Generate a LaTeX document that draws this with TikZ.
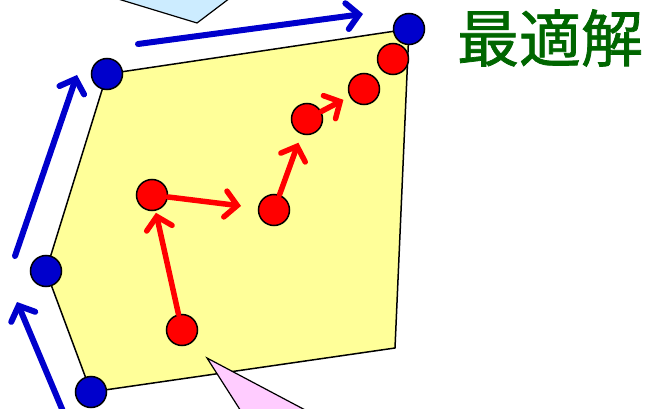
\documentclass[tikz,border=0pt]{standalone}
\usepackage{fontspec}
\newfontfamily\cjk[FakeBold=1.2]{Noto Sans CJK JP}
\usetikzlibrary{arrows.meta}
\definecolor{polyyellow}{HTML}{FFFF99}
\definecolor{calloutblue}{HTML}{CCECFF}
\definecolor{calloutpink}{HTML}{FFCCFF}
\definecolor{dotblue}{HTML}{0000CC}
\definecolor{dotred}{HTML}{FF0000}
\definecolor{textgreen}{HTML}{006600}
\tikzset{
  bluedot/.style={circle,draw=black,line width=1.5pt,fill=dotblue,minimum size=31pt,inner sep=0pt},
  reddot/.style={circle,draw=black,line width=1.5pt,fill=dotred,minimum size=31pt,inner sep=0pt},
  bluearrow/.style={draw=dotblue,line width=6pt,line cap=round,-{Straight Barb[length=12pt,width=26pt,line cap=round]}},
  redarrow/.style={draw=dotred,line width=5.5pt,line cap=round,-{Straight Barb[length=12pt,width=26pt,line cap=round]}},
  callout/.style={draw=black,line width=1.2pt,line join=miter}
}
\begin{document}
\begin{tikzpicture}[x=1pt,y=-1pt]
\useasboundingbox (0,0) rectangle (645,409);
\clip (0,0) rectangle (645,409);
% polygon
\coordinate (p1) at (91,392);
\coordinate (p2) at (46,271);
\coordinate (p3) at (107,74);
\coordinate (p4) at (409,29);
\coordinate (p5) at (395,348);
\draw[fill=polyyellow,line width=1.5pt,line join=round] (p1) -- (p2) -- (p3) -- (p4) -- (p5) -- cycle;
% callouts
\coordinate (ct1) at (197,23);
\draw[callout,fill=calloutblue] (105,-5) -- (ct1) -- (234,-5);
\coordinate (ct2) at (207,358);
\draw[callout,fill=calloutpink] (253,430) -- (ct2) -- (343,430);
% blue dots
\node[bluedot] (b1) at (p1) {};
\node[bluedot] (b2) at (p2) {};
\node[bluedot] (b3) at (p3) {};
\node[bluedot] (b4) at (p4) {};
% red dots
\node[reddot] (r1) at (182,330) {};
\node[reddot] (r2) at (152,195) {};
\node[reddot] (r3) at (274,210) {};
\node[reddot] (r4) at (307,119) {};
\node[reddot] (r5) at (364,89) {};
\node[reddot] (r6) at (393,59) {};
% red arrows
\draw[redarrow,shorten >=2pt] (r1) -- (r2);
\draw[redarrow,shorten >=17pt] (r2) -- (r3);
\draw[redarrow,shorten >=9pt] (r3) -- (r4);
\draw[redarrow,shorten >=7pt] (r4) -- (r5);
% blue arrows
\coordinate (a1s) at (65,416);
\coordinate (a1e) at (17,302);
\coordinate (a2s) at (15,256);
\coordinate (a2e) at (77,75);
\coordinate (a3s) at (138,44);
\coordinate (a3e) at (363,14);
\draw[bluearrow] (a1s) -- (a1e);
\draw[bluearrow] (a2s) -- (a2e);
\draw[bluearrow] (a3s) -- (a3e);
% label
\node[text=textgreen,font=\cjk\fontsize{62}{62}\selectfont,inner sep=0pt] (lbl) at (550,38) {最適解};
\end{tikzpicture}
\end{document}
